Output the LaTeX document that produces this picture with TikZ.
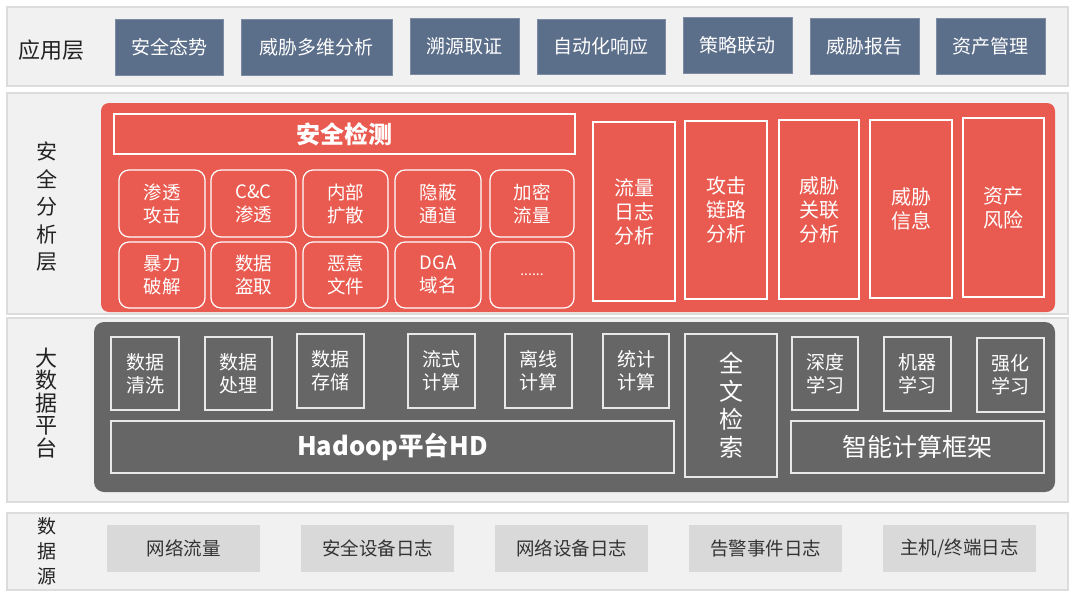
\documentclass[tikz,border=0pt]{standalone}
\usepackage{fontspec}
\setmainfont{Noto Sans CJK SC}
\definecolor{panelc}{HTML}{F1F1F1}
\definecolor{panelb}{HTML}{DCDCDC}
\definecolor{slate}{HTML}{5B6E8A}
\definecolor{redc}{HTML}{E95B50}
\definecolor{darkc}{HTML}{666666}
\definecolor{srcc}{HTML}{D9D9D9}
\definecolor{srct}{HTML}{333333}
\definecolor{lblc}{HTML}{222222}
\newcommand\fsz[2]{\fontsize{#1}{#2}\selectfont}
\newcommand\bx[7]{\node[#6, minimum width={(#4-#2)*1pt}, minimum height={(#5-#3)*1pt}] (#1) at ({(#2+#4)/2},{(#3+#5)/2}) {#7};}
\tikzset{
  base/.style={inner sep=0pt, outer sep=0pt, align=center},
  panel/.style={base, fill=panelc, draw=panelb, line width=1.5pt},
  appbox/.style={base, fill=slate, draw=slate!80!white, line width=0.6pt, text=white, font=\fsz{19}{23}},
  redpanel/.style={base, fill=redc, rounded corners=8pt},
  redhead/.style={base, draw=white, line width=1.2pt, text=white, font=\fsz{24}{28}\bfseries},
  redsmall/.style={base, draw=white, line width=1.2pt, rounded corners=10pt, text=white, font=\fsz{18.5}{23}},
  redtall/.style={base, draw=white, line width=1.2pt, text=white, font=\fsz{20}{24}},
  darkpanel/.style={base, fill=darkc, rounded corners=10pt},
  darkbox/.style={base, draw=white!85!darkc, line width=1.2pt, text=white, font=\fsz{19}{23}},
  srcbox/.style={base, fill=srcc, text=srct, font=\fsz{18.5}{22}},
  lbl/.style={base, text=lblc}
}
\begin{document}
\begin{tikzpicture}[x=1pt,y=-1pt]
\useasboundingbox[fill=white] (0,0) rectangle (1080,600);
% layer panels
\bx{L1}{7}{7}{1068}{86}{panel}{}
\bx{L2}{7}{93}{1068}{314}{panel}{}
\bx{L3}{7}{318}{1068}{502}{panel}{}
\bx{L4}{7}{513}{1068}{590}{panel}{}
% layer labels
\node[lbl, font=\fsz{22}{26}] (lab1) at (52,50) {应用层};
\node[lbl, font=\fsz{21}{27.5}] (lab2) at (47,207) {安\\全\\分\\析\\层};
\node[lbl, font=\fsz{22}{22.5}] (lab3) at (46,403) {大\\数\\据\\平\\台};
\node[lbl, font=\fsz{19}{25}] (lab4) at (47,551) {数\\据\\源};
% application layer
\bx{a1}{115}{19}{223}{75}{appbox}{安全态势}
\bx{a2}{241}{19}{392}{75}{appbox}{威胁多维分析}
\bx{a3}{410}{18}{519}{74}{appbox}{溯源取证}
\bx{a4}{537}{19}{665}{74}{appbox}{自动化响应}
\bx{a5}{683}{17}{792}{73}{appbox}{策略联动}
\bx{a6}{810}{18}{919}{74}{appbox}{威胁报告}
\bx{a7}{936}{18}{1045}{74}{appbox}{资产管理}
% security analysis layer
\bx{rp}{101}{103}{1055}{312}{redpanel}{}
\bx{rh}{114}{114}{575}{154}{redhead}{安全检测}
\bx{r1}{119}{170}{205}{237}{redsmall}{渗透\\攻击}
\bx{r2}{211}{170}{296}{237}{redsmall}{C\&C\\渗透}
\bx{r3}{303}{170}{388}{237}{redsmall}{内部\\扩散}
\bx{r4}{395}{170}{481}{237}{redsmall}{隐蔽\\通道}
\bx{r5}{490}{170}{574}{237}{redsmall}{加密\\流量}
\bx{r6}{119}{242}{205}{308}{redsmall}{暴力\\破解}
\bx{r7}{211}{242}{296}{308}{redsmall}{数据\\盗取}
\bx{r8}{303}{242}{388}{308}{redsmall}{恶意\\文件}
\bx{r9}{395}{242}{481}{308}{redsmall}{DGA\\域名}
\bx{r10}{490}{242}{574}{308}{redsmall}{\fsz{14}{16}......}
\bx{t1}{593}{122}{675}{301}{redtall}{流量\\日志\\分析}
\bx{t2}{685}{121}{767}{299}{redtall}{攻击\\链路\\分析}
\bx{t3}{779}{120}{859}{299}{redtall}{威胁\\关联\\分析}
\bx{t4}{870}{120}{952}{298}{redtall}{威胁\\信息}
\bx{t5}{963}{118}{1044}{297}{redtall}{资产\\风险}
% big data platform
\bx{dp}{94}{322}{1055}{492}{darkpanel}{}
\bx{d1}{111}{337}{179}{410}{darkbox}{数据\\清洗}
\bx{d2}{205}{337}{272}{410}{darkbox}{数据\\处理}
\bx{d3}{297}{334}{364}{408}{darkbox}{数据\\存储}
\bx{d4}{408}{334}{475}{408}{darkbox}{流式\\计算}
\bx{d5}{505}{334}{572}{408}{darkbox}{离线\\计算}
\bx{d6}{603}{334}{669}{408}{darkbox}{统计\\计算}
\bx{d7}{685}{334}{777}{477}{darkbox, font=\fsz{24}{28}}{全\\文\\检\\索}
\bx{d8}{792}{337}{858}{410}{darkbox}{深度\\学习}
\bx{d9}{884}{337}{951}{411}{darkbox}{机器\\学习}
\bx{d10}{977}{338}{1044}{412}{darkbox}{强化\\学习}
\bx{hd}{111}{421}{674}{473}{darkbox, font=\fsz{25.5}{28}\bfseries}{Hadoop平台HD}
\bx{ai}{791}{421}{1044}{473}{darkbox, font=\fsz{25}{28}}{智能计算框架}
% data sources
\bx{s1}{107}{525}{260}{572}{srcbox}{网络流量}
\bx{s2}{301}{525}{454}{572}{srcbox}{安全设备日志}
\bx{s3}{495}{525}{648}{572}{srcbox}{网络设备日志}
\bx{s4}{689}{525}{842}{572}{srcbox}{告警事件日志}
\bx{s5}{883}{525}{1036}{572}{srcbox}{主机/终端日志}
\end{tikzpicture}
\end{document}
